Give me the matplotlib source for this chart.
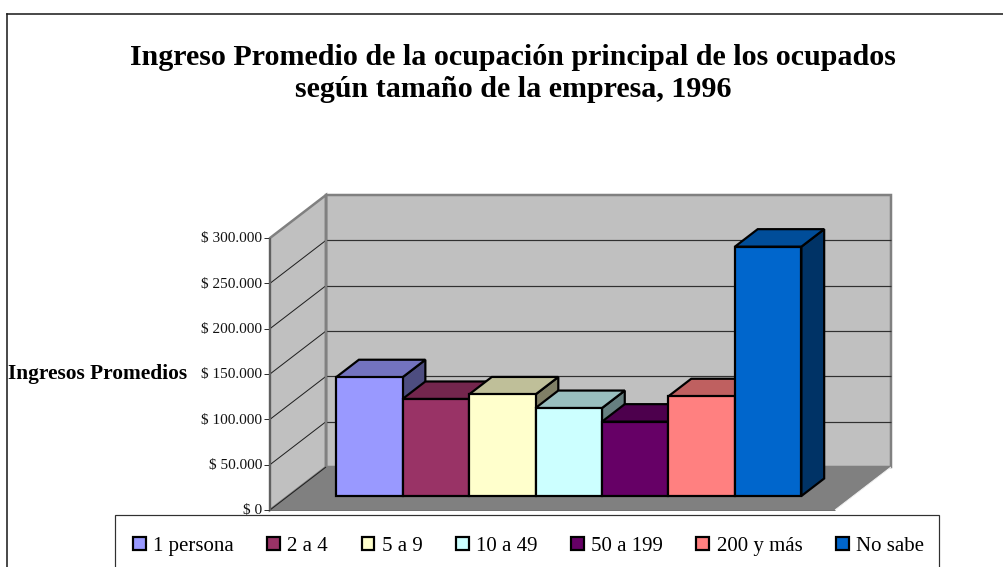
import matplotlib
matplotlib.use("Agg")
import matplotlib.pyplot as plt
from matplotlib.patches import Polygon, Patch, Rectangle
from matplotlib.lines import Line2D
from matplotlib.transforms import IdentityTransform
from matplotlib.colors import to_rgb

categories = ["1 persona", "2 a 4", "5 a 9", "10 a 49", "50 a 199", "200 y más", "No sabe"]
values = [131000, 107000, 112000, 97000, 82000, 110000, 275000]
colors = ["#9999FF", "#993366", "#FFFFCC", "#CCFFFF", "#660066", "#FF8080", "#0066CC"]
yticks = [0, 50000, 100000, 150000, 200000, 250000, 300000]
ytick_labels = ["$ 0", "$ 50.000", "$ 100.000", "$ 150.000", "$ 200.000", "$ 250.000", "$ 300.000"]
title = "Ingreso Promedio de la ocupación principal de los ocupados\nsegún tamaño de la empresa, 1996"
ylabel = "Ingresos Promedios"

W, H = 1004, 567
plt.rcParams["font.family"] = ["Liberation Serif", "DejaVu Serif"]
fig = plt.figure(figsize=(W / 100, H / 100), dpi=100)
fig.patch.set_facecolor("white")
px = 0.72  # points per pixel

# front plane of the chart box
L, R, T, B = 270, 835, 238, 510
ax = fig.add_axes([L / W, 1 - B / H, (R - L) / W, (B - T) / H])
ax.set_xlim(-0.72, 7.78)
ax.set_ylim(0, 300000)
ax.axis("off")
DX, DY = 56, 43   # full depth of the box
identity = IdentityTransform()


def P(x, v, d=0.0):
    X, Y = ax.transData.transform((x, v))
    return (X + DX * d, Y + DY * d)


def poly(pts, z, **kw):
    kw.setdefault("joinstyle", "miter")
    ax.add_patch(Polygon(pts, closed=True, transform=identity, clip_on=False, zorder=z, **kw))


def line(a, b, z, color="#202020", lw=1.0):
    ax.add_line(Line2D([a[0], b[0]], [a[1], b[1]], transform=identity, clip_on=False,
                       color=color, lw=lw * px, zorder=z, solid_capstyle="butt"))


x0, x1 = ax.get_xlim()
ytop = yticks[-1]
wall = "#C0C0C0"
edge = "#808080"
# back wall, side wall, floor
poly([P(x0, 0, 1), P(x1, 0, 1), P(x1, ytop, 1), P(x0, ytop, 1)], 1, facecolor=wall, edgecolor=edge, lw=2.5 * px)
poly([P(x0, 0, 0), P(x0, 0, 1), P(x0, ytop, 1), P(x0, ytop, 0)], 1, facecolor=wall, edgecolor=edge, lw=2.5 * px)
poly([P(x0, 0, 0), P(x1, 0, 0), P(x1, 0, 1), P(x0, 0, 1)], 2, facecolor=edge, edgecolor="none")

for v, lab in zip(yticks, ytick_labels):
    if 0 < v < ytop:
        line(P(x0, v, 1), P(x1, v, 1), 3, color="#303030", lw=1.2)
        line(P(x0, v, 0), P(x0, v, 1), 3, color="#202020", lw=1.0)
    a = P(x0, v, 0)
    line((a[0] - 6, a[1]), a, 4, color="#303030", lw=1.0)
    ax.text(a[0] - 8, a[1] - 0.7, lab, transform=identity, ha="right", va="center",
            fontsize=11, color="#111111", clip_on=False)

line(P(x0, 0, 1), P(x0, ytop, 1), 4, color=edge, lw=2.5)
line(P(x0, 0, 0), P(x0, 0, 1), 4, color="#202020", lw=1)
line(P(x1, 0, 0), P(x1, 0, 1), 4, color="#F0F0F0", lw=1)
line(P(x0, 0, 0), P(x1, 0, 0), 4, color="#707070", lw=1)
line(P(x0, 0, 0), P(x0, ytop, 0), 4, color="#606060", lw=2)

# bars: front plane and back plane inside the box
d0, d1 = 14 / 43, 31.5 / 43
bar_lw = 2.2 * px


def shade(c, k):
    return tuple(k * ch for ch in to_rgb(c))


for i, (v, c) in enumerate(zip(values, colors)):
    l, r = i, i + 1
    z = 10 + i
    common = dict(edgecolor="black", lw=bar_lw)
    poly([P(r, 0, d0), P(r, 0, d1), P(r, v, d1), P(r, v, d0)], z, facecolor=shade(c, 0.5), **common)
    poly([P(l, v, d0), P(r, v, d0), P(r, v, d1), P(l, v, d1)], z, facecolor=shade(c, 0.75), **common)
    poly([P(l, 0, d0), P(r, 0, d0), P(r, v, d0), P(l, v, d0)], z, facecolor=c, **common)

fig.text(513 / W, 1 - 73.5 / H, title, ha="center", va="center", fontsize=21.6, fontweight="bold",
         linespacing=1.26, color="black")
fig.text(8 / W, 1 - 374 / H, ylabel, ha="left", va="center", fontsize=15.4, fontweight="bold", color="black")

# outer frame: runs off the right and bottom of the picture
fx, fy = 6.5, 14
for xs, ys in (([fx, fx], [0, H - fy]), ([fx, W], [H - fy, H - fy])):
    fig.add_artist(Line2D(xs, ys, transform=identity, color="#202020", lw=1.6 * px))

# legend box also runs off the bottom
fig.add_artist(Rectangle((115, -10), 939 - 115, H - 515 + 10, transform=identity,
                         facecolor="white", edgecolor="#303030", lw=1.2 * px, zorder=29))

handles = [Patch(facecolor=c, edgecolor="black", lw=2.2 * px) for c in colors]
leg = fig.legend(handles, categories, ncol=7, loc="upper left",
                 bbox_to_anchor=(133 / W, 1 - 536.5 / H), bbox_transform=fig.transFigure,
                 borderaxespad=0, fontsize=15, frameon=False, borderpad=0,
                 handlelength=0.62, handleheight=0.62,
                 handletextpad=0.35, columnspacing=1.6, labelcolor="black")
leg.set_zorder(30)

fig.savefig("out.png", dpi=100, facecolor="white")
